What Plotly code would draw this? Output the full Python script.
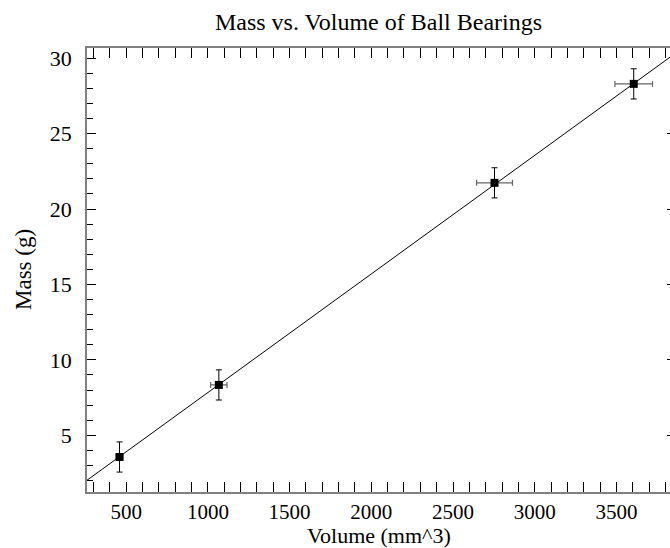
import plotly.graph_objects as go

# Data
volume = [459, 1067, 2754, 3606]          # mm^3
mass = [3.56, 8.34, 21.74, 28.30]         # g
volume_err = [20, 50, 110, 115]
mass_err = [1.0, 1.0, 1.0, 1.0]

fit_x = [260, 3828]
fit_y = [2.02, 30.07]

x_range = [260, 3828]
y_range = [1.24, 30.68]

FONT = "Liberation Serif"

fig = go.Figure()
fig.add_trace(go.Scatter(
    x=fit_x, y=fit_y, mode="lines",
    line=dict(color="black", width=1), showlegend=False, hoverinfo="skip"))
fig.add_trace(go.Scatter(
    x=volume, y=mass, mode="markers",
    marker=dict(symbol="square", size=8, color="black"),
    error_y=dict(type="data", array=mass_err, color="black", thickness=1, width=3),
    error_x=dict(type="data", array=volume_err, color="#666666", thickness=1.2, width=3),
    showlegend=False))
# invisible trace on the right axis so its stub ticks are drawn
fig.add_trace(go.Scatter(x=[None], y=[None], yaxis="y2", showlegend=False, hoverinfo="skip"))

fig.update_layout(
    width=670, height=548,
    margin=dict(l=87, r=0, t=48, b=56),
    paper_bgcolor="white", plot_bgcolor="white",
    font=dict(family=FONT, color="black", size=22),
    title=dict(text="Mass vs. Volume of Ball Bearings", x=0.5, xref="paper",
               y=1 - 22/548, yref="container", xanchor="center", yanchor="middle",
               font=dict(family=FONT, size=24, color="black")),
    yaxis2=dict(overlaying="y", side="right", range=y_range,
                tickvals=[5, 10, 15, 20, 25],
                showgrid=False, zeroline=False, showline=False,
                ticks="inside", ticklen=3, tickcolor="black", showticklabels=False),
    annotations=[
        dict(text="Mass (g)", textangle=-90, xref="paper", yref="paper",
             x=-64/583, y=0.5, xanchor="center", yanchor="middle",
             showarrow=False, font=dict(family=FONT, size=23, color="black")),
        dict(text="Volume (mm^3)", xref="paper", yref="paper",
             x=0.5, y=-43/444, xanchor="center", yanchor="middle",
             showarrow=False, font=dict(family=FONT, size=22, color="black")),
    ],
)
fig.update_xaxes(
    range=x_range, dtick=500, tick0=0,
    showgrid=False, zeroline=False,
    showline=True, linecolor="#808080", linewidth=1.5, mirror="allticks",
    ticks="inside", ticklen=10, tickwidth=1, tickcolor="black",
    minor=dict(dtick=100, tick0=0, ticks="inside", ticklen=7, tickcolor="black", tickwidth=1),
    tickfont=dict(family=FONT, size=21),
)
fig.layout.yaxis.update(
    range=y_range, dtick=5, tick0=0,
    showgrid=False, zeroline=False,
    showline=True, linecolor="#808080", linewidth=1.5, mirror=False,
    ticks="inside", ticklen=9, tickwidth=1, tickcolor="black",
    minor=dict(dtick=1, tick0=0, ticks="inside", ticklen=6, tickcolor="black", tickwidth=1),
    tickfont=dict(family=FONT, size=22),
    ticklabelstandoff=9,
)

fig.write_html("out.html")
